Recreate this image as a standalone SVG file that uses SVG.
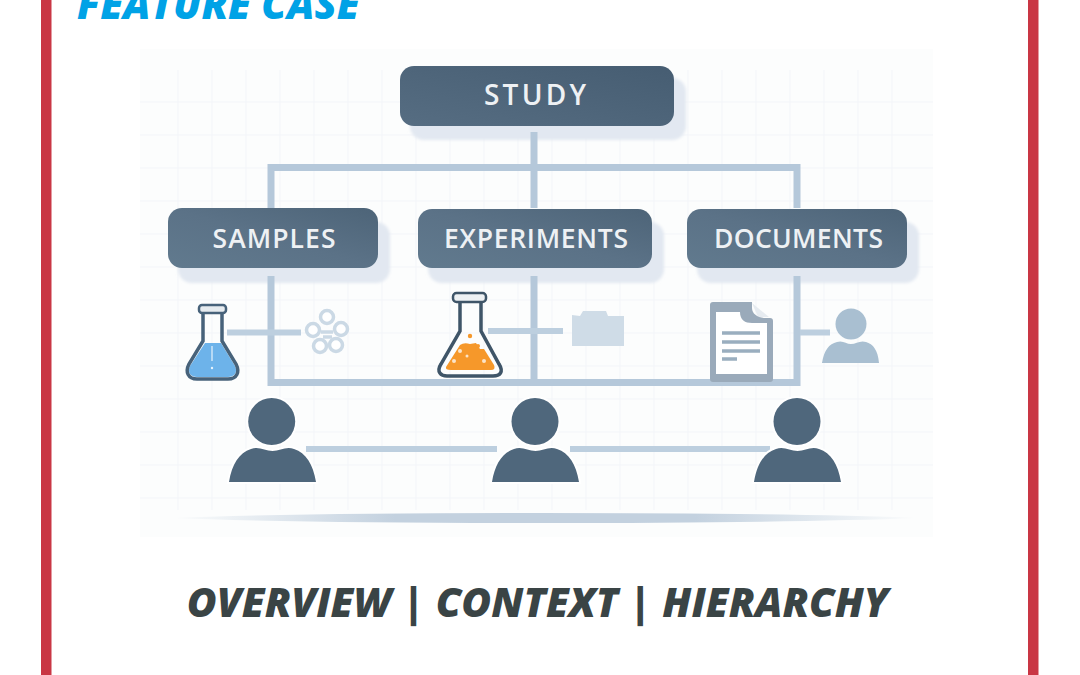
<svg xmlns="http://www.w3.org/2000/svg" width="1080" height="675" viewBox="0 0 1080 675">
<style>
.bar{fill:#c93644}
.title{font-family:"Open Sans","Liberation Sans",sans-serif;font-weight:800;font-style:italic}
.box{fill:url(#boxg)}
.shadow{fill:#e2e8f1;filter:url(#soft)}
.lbl{font-family:"Open Sans","Liberation Sans",sans-serif;font-size:26.500px;font-weight:600;fill:#eef1f4;text-anchor:middle}
.conn{stroke:#b5c8da;fill:none;stroke-width:7}
.thin{stroke:#bdcfdf;fill:none;stroke-width:6}
.person{fill:#4f677c;stroke:#fff;stroke-width:4;paint-order:stroke}
.grid{stroke:#f3f5f9;stroke-width:1;fill:none}
</style>
<defs>
<linearGradient id="boxg" x1="0" y1="1" x2="1" y2="0"><stop offset="0" stop-color="#617a8e"/><stop offset=".5" stop-color="#5b7287"/><stop offset="1" stop-color="#4d6478"/></linearGradient>
<linearGradient id="boxd" x1="0" y1="1" x2="1" y2="0"><stop offset="0" stop-color="#566d82"/><stop offset="1" stop-color="#465d72"/></linearGradient>
<linearGradient id="floor" x1="0" x2="1" y1="0" y2="0"><stop offset="0" stop-color="#c3d1df" stop-opacity="0"/><stop offset=".3" stop-color="#c3d1df"/><stop offset=".7" stop-color="#c3d1df"/><stop offset="1" stop-color="#c3d1df" stop-opacity="0"/></linearGradient>
<filter id="soft" x="-10%" y="-10%" width="120%" height="120%"><feGaussianBlur stdDeviation="1.500"/></filter>
</defs>
<rect width="1080" height="675" fill="#fff"/>
<rect class="bar" x="41" y="0" width="10.500" height="675"/>
<rect class="bar" x="1028" y="0" width="10.500" height="675"/>
<text class="title" x="77" y="19" font-size="40.700" fill="#00a2e6">FEATURE CASE</text>
<rect x="140" y="49" width="793" height="488" fill="#fcfdfd"/>
<path class="grid" id="grid" d="M140 102H933M140 135H933M140 168H933M140 201H933M140 234H933M140 267H933M140 300H933M140 333H933M140 366H933M140 399H933M140 432H933M140 465H933M140 498H933M178 70V510M212 70V510M246 70V510M280 70V510M314 70V510M348 70V510M382 70V510M416 70V510M450 70V510M484 70V510M518 70V510M552 70V510M586 70V510M620 70V510M654 70V510M688 70V510M722 70V510M756 70V510M790 70V510M824 70V510M858 70V510M892 70V510"/>
<g id="study"><rect class="shadow" x="410" y="78" width="276" height="62" rx="14"/><rect x="400" y="66" width="274" height="60" rx="14" fill="url(#boxd)"/><text class="lbl" x="535" y="105" style="font-size:28px" textLength="102">STUDY</text></g>
<g id="samples"><rect class="shadow" x="178" y="222" width="212" height="61" rx="14"/><rect class="box" x="168" y="208" width="210" height="60" rx="14"/><text class="lbl" x="274" y="248" textLength="123">SAMPLES</text></g>
<g id="experiments"><rect class="shadow" x="428" y="222" width="236" height="61" rx="14"/><rect class="box" x="418" y="209" width="234" height="59" rx="14"/><text class="lbl" x="536" y="248" textLength="184">EXPERIMENTS</text></g>
<g id="documents"><rect class="shadow" x="697" y="222" width="222" height="61" rx="14"/><rect class="box" x="687" y="209" width="220" height="59" rx="14"/><text class="lbl" x="798.500" y="248" textLength="169">DOCUMENTS</text></g>
<g id="connectors">
<path class="conn" d="M534 132V208M534 276V382M271 208V167.500H797V208M271 276V382.500H797V276"/>
<path class="thin" d="M227 332.500H301M488 331H563M800 332.500H830"/>
<path class="thin" d="M306 449H497M570 449H770"/>
<path d="M170 518Q300 513 540 513Q780 513 920 518Q780 523 540 523Q300 523 170 518Z" fill="url(#floor)"/>
</g>
<g id="flask-blue">
<path d="M205 343H221L235 366C238 373 234 377 228 377H197C191 377 187 373 190 366Z" fill="#6db3ea"/>
<path d="M212 346V361" stroke="#cfe6f8" stroke-width="1.500"/>
<circle cx="212" cy="368" r="1.200" fill="#e8f3fb"/>
<path d="M203 312V341L189 364C185 372 188 379 197 379H228C237 379 240 372 236 364L222 341V312" fill="none" stroke="#47627a" stroke-width="3.500"/>
<rect x="199" y="305" width="27" height="8" rx="3" fill="#e6ebef" stroke="#47627a" stroke-width="2.500"/>
</g>
<g id="flower" fill="#fff" stroke="#cbd9e5" stroke-width="3.500">
<circle cx="327" cy="317" r="6.500"/><circle cx="313" cy="330" r="6.500"/><circle cx="341" cy="329" r="6.500"/><circle cx="320" cy="346" r="6.500"/><circle cx="336" cy="345" r="6.500"/>
<path d="M321 332H333M323 337H332" fill="none"/>
</g>
<g id="flask-orange">
<path d="M446 367L460 345Q464 342 470 344L476 343L480 349L484 349L494 365Q496 370 491 370H451Q445 370 446 367Z" fill="#f6982a"/>
<g fill="#fbe4c8"><circle cx="460" cy="351" r="2"/><circle cx="467" cy="356" r="1.500"/><circle cx="454" cy="361" r="2"/><circle cx="484" cy="361" r="2"/></g>
<circle cx="470" cy="336" r="2.200" fill="#f6982a"/><circle cx="478" cy="346" r="2" fill="#f6982a"/>
<path d="M460 302V331L441 364C436 372 441 376 447 376H493C500 376 504 372 499 364L481 331V302" fill="none" stroke="#3f5568" stroke-width="3.500"/>
<rect x="453" y="293" width="33" height="9" rx="3.500" fill="#eef1f3" stroke="#3f5568" stroke-width="2.500"/>
</g>
<g id="folder"><path d="M572 315L580 316L583 311H606L608 316H624V346H572Z" fill="#cfdce7"/></g>
<g id="document">
<path d="M752 303L769 317H758Z" fill="#e6ebf0"/>
<path d="M713 302H752V308C752 314 758 318 766 318H770Q773 318 773 321V379Q773 382 770 382H713Q710 382 710 379V305Q710 302 713 302Z" fill="#9aaaba"/>
<path d="M716 312H740C740 320 745 323 752 323H767V374H716Z" fill="#fff"/>
<path d="M722 333H760M722 342H760M722 351H760M722 359H737" stroke="#9aaebf" stroke-width="3.500"/>
</g>
<g id="person-small" fill="#a9bfd1"><circle cx="851" cy="324" r="15.500"/><path d="M822 363C824 350 829 344 837 342C843 340 846 344 851 344C856 344 860 340 866 342C873 344 878 350 879 363Z"/></g>
<g id="person-1" class="person"><circle cx="271.700" cy="421.500" r="23.500"/><path d="M229 482C232 464 239 453 251 449C259 446 265 451 272.500 451C280 451 286 446 294 449C306 453 313 464 316 482Z"/></g>
<g id="person-2" class="person"><circle cx="535" cy="421.500" r="23.500"/><path d="M492 482C495 464 502 453 514 449C522 446 528 451 535.500 451C543 451 549 446 557 449C569 453 576 464 579 482Z"/></g>
<g id="person-3" class="person"><circle cx="797" cy="421.500" r="23.500"/><path d="M754 482C757 464 764 453 776 449C784 446 790 451 797.500 451C805 451 811 446 819 449C831 453 838 464 841 482Z"/></g>
<text class="title" x="537.500" y="617" font-size="40.700" fill="#3a4445" text-anchor="middle">OVERVIEW | CONTEXT | HIERARCHY</text>
</svg>
